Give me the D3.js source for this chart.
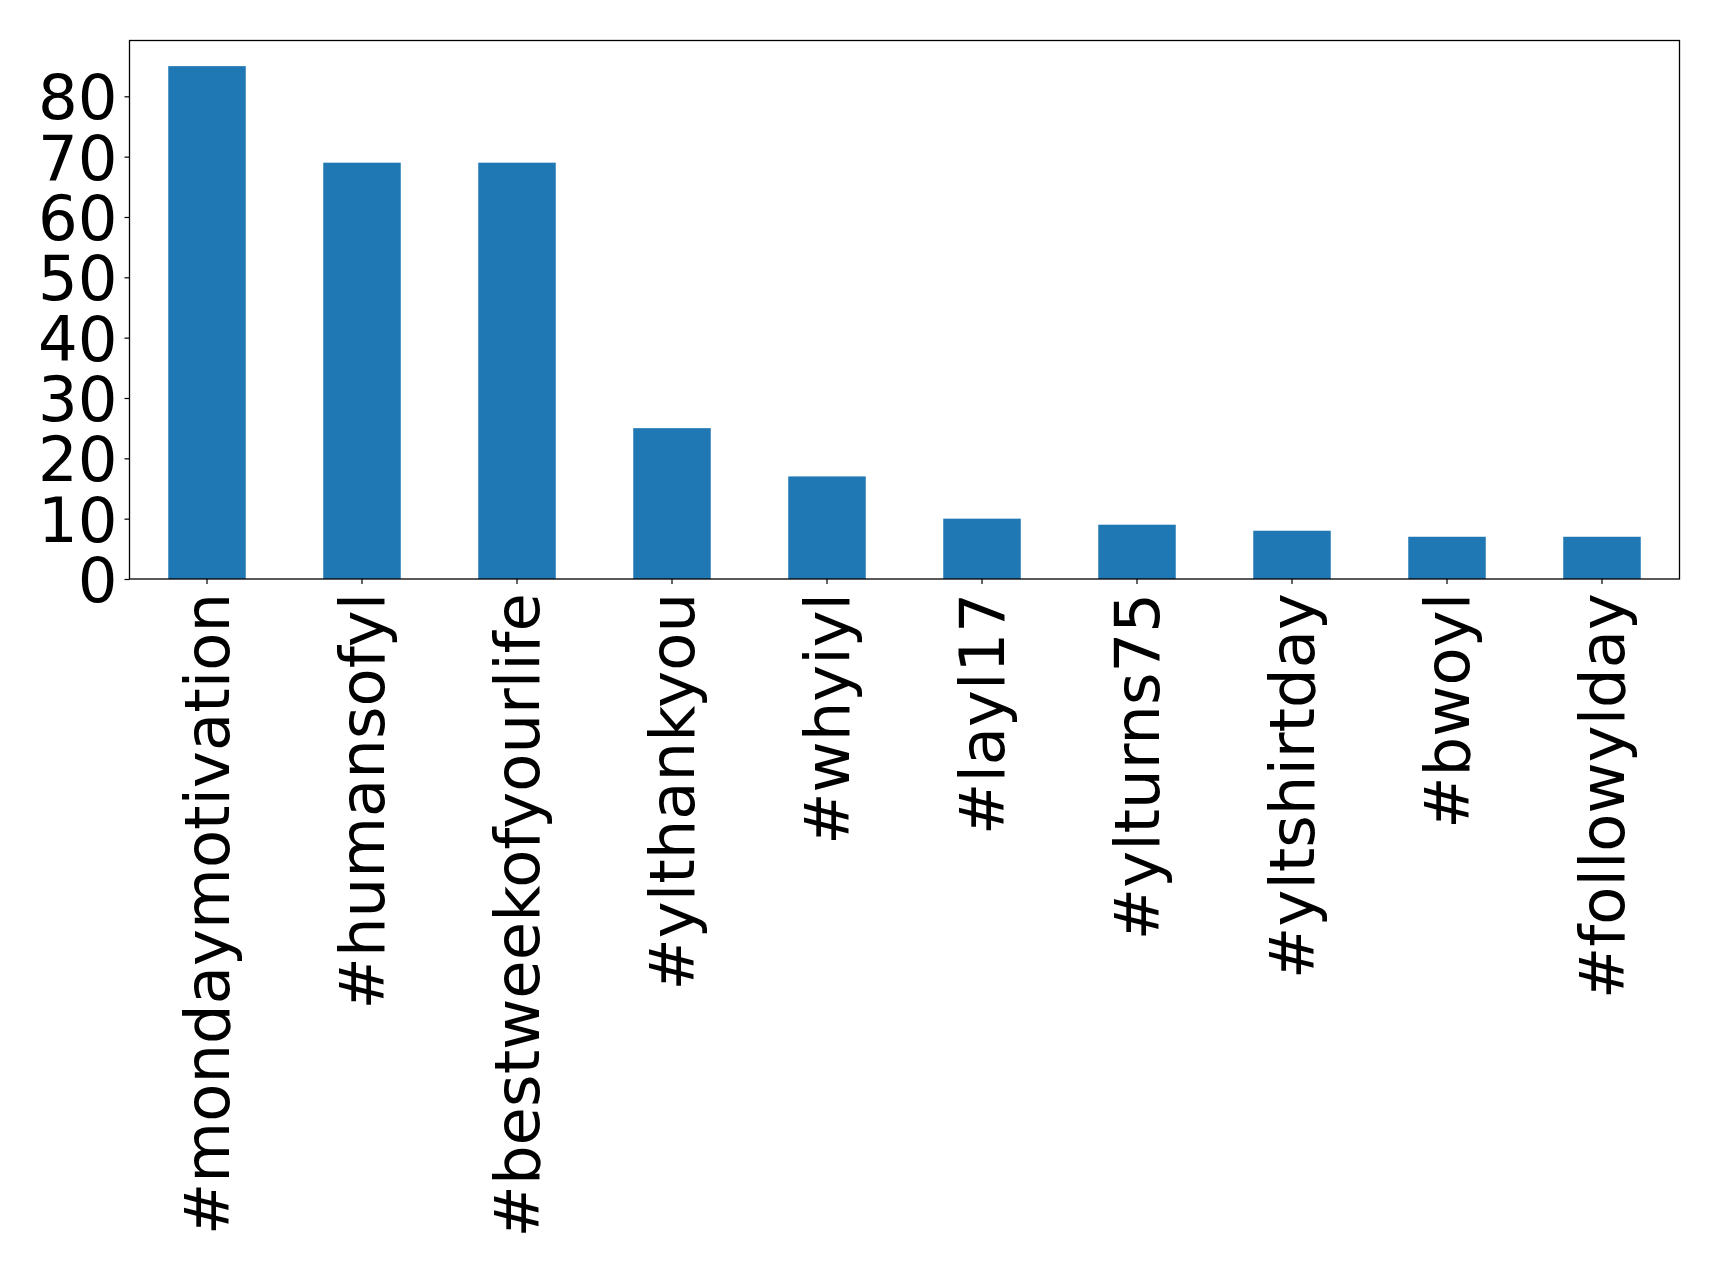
<!DOCTYPE html>
<html>
<head>
<meta charset="utf-8">
<script src="https://cdn.jsdelivr.net/npm/d3@7"></script>
<style>
  html, body { margin: 0; padding: 0; background: #fff; }
  svg { display: block; }
</style>
</head>
<body>
<svg id="chart" width="1719" height="1273"></svg>
<script>
const categories = ["#mondaymotivation", "#humansofyl", "#bestweekofyourlife", "#ylthankyou", "#whyiyl", "#layl17", "#ylturns75", "#yltshirtday", "#bwoyl", "#followylday"];
const values = [85, 69, 69, 25, 17, 10, 9, 8, 7, 7];
const yTicks = [0, 10, 20, 30, 40, 50, 60, 70, 80];

(function () {
const svg = d3.select("#chart");
const plotLeft = 129.5, plotRight = 1679.5, plotTop = 40.5, plotBottom = 579;
const fontSize = 62.5;
const fontFamily = "'DejaVu Sans', sans-serif";

const x = d3.scaleBand().domain(categories).range([plotLeft, plotRight]).paddingInner(0.5).paddingOuter(0.25);
const y = d3.scaleLinear().domain([0, d3.max(values) * 1.05]).range([plotBottom, plotTop]);

svg.append("rect").attr("width", 1719).attr("height", 1273).attr("fill", "#fff");

svg.append("g").selectAll("rect").data(values).join("rect")
  .attr("x", (d, i) => x(categories[i]))
  .attr("width", x.bandwidth())
  .attr("y", d => y(d))
  .attr("height", d => y(0) - y(d))
  .attr("fill", "#1f77b4");

// y axis
const yAxis = svg.append("g").attr("transform", `translate(${plotLeft},0)`)
  .call(d3.axisLeft(y).tickValues(yTicks).tickSize(5).tickPadding(7).tickFormat(d3.format("d")));
yAxis.select(".domain").remove();
yAxis.selectAll(".tick line").attr("stroke", "#000").attr("stroke-width", 1.2);
yAxis.selectAll(".tick text")
  .attr("font-family", fontFamily).attr("font-size", fontSize).attr("fill", "#000")
  .attr("dy", "0.36em");

// x axis
const xAxis = svg.append("g").attr("transform", `translate(0,${plotBottom})`)
  .call(d3.axisBottom(x).tickSize(5).tickPadding(0));
xAxis.select(".domain").remove();
xAxis.selectAll(".tick line").attr("stroke", "#000").attr("stroke-width", 1.2);
xAxis.selectAll(".tick text")
  .attr("font-family", fontFamily).attr("font-size", fontSize).attr("fill", "#000")
  .attr("text-anchor", "end")
  .attr("transform", "rotate(-90)")
  .attr("x", -14)
  .attr("y", 0)
  .attr("dy", "0.35em");

// frame
svg.append("rect")
  .attr("x", plotLeft).attr("y", plotTop)
  .attr("width", plotRight - plotLeft).attr("height", plotBottom - plotTop)
  .attr("fill", "none").attr("stroke", "#000").attr("stroke-width", 1.3);
})();
</script>
</body>
</html>
